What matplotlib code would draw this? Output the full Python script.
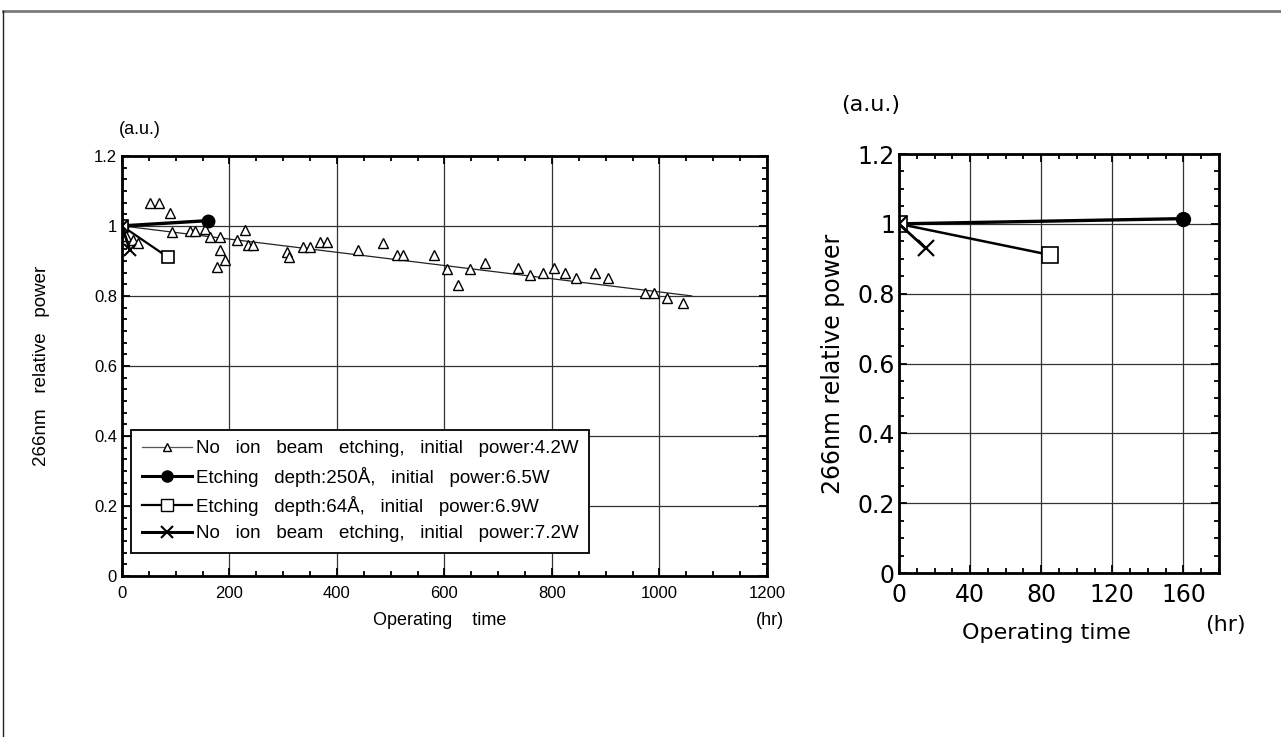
import matplotlib
matplotlib.use('Agg')
import matplotlib.pyplot as plt
from matplotlib.lines import Line2D
from matplotlib.ticker import MultipleLocator

# --- data (hr, relative power) ---
# No ion beam etching, 4.2 W
tri_hr = [0, 8, 20, 30, 52, 69, 89, 93, 127, 136, 155, 164, 177, 183, 183, 192,
          214, 229, 235, 244, 307, 310, 337, 350, 369, 382, 440, 486, 512, 523,
          580, 605, 626, 648, 676, 736, 760, 784, 803, 825, 844, 881, 904,
          974, 989, 1015, 1043]
tri_pw = [1.0, 0.97, 0.96, 0.95, 1.065, 1.065, 1.037, 0.983, 0.985, 0.985, 0.99,
          0.968, 0.883, 0.968, 0.931, 0.903, 0.96, 0.988, 0.945, 0.945, 0.925,
          0.911, 0.94, 0.94, 0.954, 0.954, 0.931, 0.951, 0.917, 0.917,
          0.917, 0.877, 0.831, 0.877, 0.894, 0.88, 0.86, 0.865, 0.88, 0.865,
          0.851, 0.865, 0.851, 0.808, 0.808, 0.794, 0.78]
trend_hr = [0, 1060]
trend_pw = [1.0, 0.80]

# Etching depth 250 A, 6.5 W
circ_hr = [0, 160]
circ_pw = [1.0, 1.015]
# Etching depth 64 A, 6.9 W
sq_hr = [0, 85]
sq_pw = [1.0, 0.911]
# No ion beam etching, 7.2 W
x_hr = [0, 15]
x_pw = [1.0, 0.93]

labels = ['No   ion   beam   etching,   initial   power:4.2W',
          'Etching   depth:250Å,   initial   power:6.5W',
          'Etching   depth:64Å,   initial   power:6.9W',
          'No   ion   beam   etching,   initial   power:7.2W']

fig = plt.figure(figsize=(12.81, 7.37), dpi=100)

# page border (top and left edge)
fig.add_artist(Line2D([0.0023, 1.0], [0.985, 0.985], transform=fig.transFigure,
                      color='#7a7a7a', lw=2))
fig.add_artist(Line2D([0.0023, 0.0023], [0.0, 0.985], transform=fig.transFigure,
                      color='#222222', lw=1))


def style_axes(ax, xmaj, xmin, ymin, size):
    ax.set_ylim(0, 1.2)
    ax.yaxis.set_major_locator(MultipleLocator(0.2))
    ax.yaxis.set_minor_locator(MultipleLocator(ymin))
    ax.xaxis.set_major_locator(MultipleLocator(xmaj))
    ax.xaxis.set_minor_locator(MultipleLocator(xmin))
    ax.tick_params(which='both', direction='in', top=True, right=True,
                   labelsize=size, width=1.3, colors='black')
    ax.tick_params(which='major', length=6)
    ax.tick_params(which='minor', length=3.5)
    ax.grid(True, which='major', color='#333333', lw=0.9)
    for s in ax.spines.values():
        s.set_linewidth(2)
    ax.set_axisbelow(True)


# ---------- left: full run ----------
ax1 = fig.add_axes([0.0952, 0.2185, 0.5035, 0.570])
lfont = 'Liberation Sans'
style_axes(ax1, 200, 50, 0.2 / 6, 12)
ax1.set_xlim(0, 1200)
ax1.yaxis.set_major_formatter(plt.FuncFormatter(lambda v, p: f'{v:g}'))
ax1.tick_params(axis='x', pad=7)
for t in ax1.get_xticklabels() + ax1.get_yticklabels():
    t.set_family(lfont)

ax1.plot(trend_hr, trend_pw, color='#222222', lw=0.9)
ax1.plot(tri_hr, tri_pw, ls='none', marker='^', ms=7, mfc='white', mec='black', mew=1)
ax1.plot(circ_hr, circ_pw, color='black', lw=2.4, marker='o', ms=9, mfc='black')
ax1.plot(sq_hr, sq_pw, color='black', lw=1.6, marker='s', ms=9, mfc='white', mec='black', mew=1.2)
ax1.plot(x_hr, x_pw, color='black', lw=2, marker='x', ms=9, mew=1.5)

ax1.set_ylabel('266nm   relative   power', family=lfont, fontsize=13.5)
ax1.yaxis.set_label_coords(-0.112, 0.5)
ax1.set_xlabel('Operating    time', family=lfont, fontsize=13)
ax1.xaxis.set_label_coords(0.493, -0.086)
ax1.text(0.028, 1.062, '(a.u.)', transform=ax1.transAxes, ha='center', va='center',
         family=lfont, fontsize=13)
ax1.text(1.005, -0.107, '(hr)', transform=ax1.transAxes, ha='center', va='center',
         family=lfont, fontsize=13)

handles = [
    Line2D([], [], color='#555555', lw=0.9, marker='^', ms=6, mfc='white', mec='black'),
    Line2D([], [], color='black', lw=2.2, marker='o', ms=8, mfc='black'),
    Line2D([], [], color='black', lw=1.6, marker='s', ms=8, mfc='white', mec='black'),
    Line2D([], [], color='black', lw=2.2, marker='x', ms=8, mew=1.5),
]
leg = ax1.legend(handles, labels, loc='lower left', bbox_to_anchor=(0.006, 0.042),
                 prop={'family': lfont, 'size': 13.5}, frameon=True, fancybox=False,
                 framealpha=1, edgecolor='black', handlelength=2.7, handletextpad=0.2,
                 labelspacing=0.5, borderpad=0.55, borderaxespad=0.3)
leg.get_frame().set_linewidth(1.3)

# ---------- right: first 180 hr ----------
ax2 = fig.add_axes([0.7018, 0.2225, 0.2498, 0.5685])
style_axes(ax2, 40, 10, 0.05, 17)
ax2.set_xlim(0, 180)
ax2.yaxis.set_major_formatter(plt.FuncFormatter(lambda v, p: f'{v:g}'))
ax2.tick_params(axis='x', pad=7)
ax2.tick_params(axis='y', pad=3)

ax2.plot(circ_hr, circ_pw, color='black', lw=2.4, marker='o', ms=10, mfc='black')
ax2.plot(sq_hr, sq_pw, color='black', lw=1.8, marker='s', ms=12, mfc='white', mec='black', mew=1.2)
ax2.plot(x_hr, x_pw, color='black', lw=2, marker='x', ms=12, mew=1.6)

ax2.set_ylabel('266nm relative power', fontsize=17)
ax2.yaxis.set_label_coords(-0.17, 0.5)
ax2.set_xlabel('Operating time', fontsize=16)
ax2.xaxis.set_label_coords(0.46, -0.12)
ax2.text(-0.09, 1.117, '(a.u.)', transform=ax2.transAxes, ha='center', va='center',
         fontsize=16)
ax2.text(1.02, -0.124, '(hr)', transform=ax2.transAxes, ha='center', va='center',
         fontsize=16)

fig.savefig('out.png', dpi=100)
